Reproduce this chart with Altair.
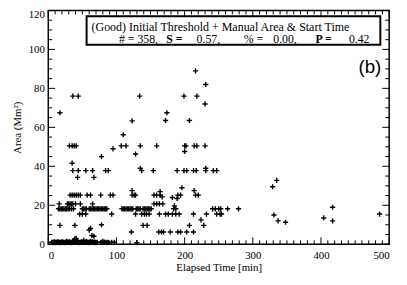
import altair as alt
import pandas as pd

# ---- data ----
# near-zero cluster
low_t = [5, 6, 7, 8, 9, 10, 11, 12, 13, 14, 15, 16, 17, 18, 19, 20, 21, 22, 23, 24, 25, 26, 27, 28,
         29, 30, 31, 32, 33, 34, 35, 36, 37, 38, 39, 40, 41, 42, 43, 44, 45, 46, 47, 48, 49, 50, 51,
         52, 53, 54, 55, 56, 57, 58, 59, 60, 61, 62, 63, 64, 65, 66, 67, 68, 69, 70, 72, 77, 79, 80,
         82, 83, 85, 86, 88, 93, 97, 130]
low_a = [1.0, 1.0, 0.8, 1.0, 1.2, 1.0, 0.8, 1.0, 1.0, 1.2, 1.0, 1.0, 0.8, 1.0, 1.0, 1.2, 1.0, 1.0,
         1.0, 0.8, 1.0, 1.0, 1.5, 1.0, 1.0, 1.0, 1.2, 1.0, 1.0, 0.8, 1.0, 1.5, 1.0, 2.0, 1.0, 1.2,
         1.0, 1.0, 1.5, 1.0, 1.0, 0.8, 1.0, 1.0, 1.2, 1.0, 1.0, 2.0, 1.0, 1.0, 1.0, 1.5, 1.0, 1.0,
         0.8, 1.0, 1.0, 1.5, 1.0, 1.0, 1.2, 1.0, 1.0, 1.0, 1.0, 0.8, 1.0, 1.0, 1.0, 1.5, 1.0, 1.0,
         1.0, 0.8, 1.0, 1.0, 1.0, 0.8]

row18_t = [15, 17, 19, 21, 23, 25, 27, 29, 31, 34, 37, 50, 52, 54, 56, 60, 62, 64, 66, 68, 70, 72,
           74, 76, 78, 80, 82, 84, 86, 108, 110, 112, 114, 116, 118, 120, 122, 124, 129, 131, 133,
           135, 139, 141, 143, 145, 147, 149, 151, 184, 187, 241, 245, 250, 253, 263, 279]
row21_t = [16, 28, 30, 32, 34, 36, 40, 47, 65, 155, 159, 163, 168]
row25_t = [32, 35, 38, 41, 44, 47, 57, 62, 77, 91, 95, 123, 126, 128, 155, 159, 164, 190, 194, 216, 220]
row16_t = [46, 50, 55, 93, 128, 137, 141, 144, 148, 163, 172, 176, 182, 187, 192, 213, 232, 247, 252, 254]
row6_t = [122, 162, 166, 169, 179, 190, 194, 203, 213]
row10_t = [17, 39, 139, 145, 207, 228]
row38_t = [36, 44, 55, 65, 84, 88, 137, 154, 189, 199, 203, 213, 217, 231, 242, 247]
row50_t = [31, 35, 38, 41, 107, 114, 135, 159, 200, 202, 214, 218, 230]
row76_t = [36, 44, 134, 199, 218]

other_t = [17, 174, 172, 123, 207, 110, 95, 128, 78, 35, 200, 135, 231, 43, 67, 216, 231, 230, 196,
           214, 123, 185, 224, 167, 182, 189, 164, 60, 62, 64, 67, 78, 39, 41,
           329, 335, 331, 337, 348, 404, 417, 417, 486]
other_a = [67.5, 67.5, 63.5, 63.3, 63.5, 56.2, 49.0, 46.3, 45.0, 41.6, 47.6, 39.0, 39.0, 34.3, 34.3,
           89.0, 82.0, 72.0, 29.0, 27.5, 27.5, 19.7, 12.5, 24.3, 24.0, 23.5, 27.0, 7.3, 8.1, 4.5,
           4.1, 10.0, 2.8, 3.0, 29.5, 32.8, 15.0, 12.0, 11.3, 13.5, 19.0, 12.0, 15.5]

rows = [(row18_t, 18.2), (row21_t, 20.7), (row25_t, 25.2), (row16_t, 15.5), (row6_t, 6.3),
        (row10_t, 9.7), (row38_t, 37.8), (row50_t, 50.5), (row76_t, 76.0)]

x_major = [0, 100, 200, 300, 400, 500]
y_major = [0, 20, 40, 60, 80, 100, 120]
x_minor = [v for v in range(0, 501, 10) if v % 100]
y_minor = [v for v in range(0, 121, 5) if v % 20]

t_all, a_all = list(low_t), list(low_a)
for ts, a in rows:
    t_all += ts
    a_all += [a] * len(ts)
t_all += other_t
a_all += other_a
pts = pd.DataFrame({"t": t_all, "a": a_all})

W, H = 347, 238
SERIF = "Liberation Serif"
xs = alt.Scale(domain=[0, 500], nice=False, zero=False)
ys = alt.Scale(domain=[0, 120], nice=False, zero=False)

x_axis = alt.Axis(values=x_major, ticks=False, domain=False, grid=False,
                  labelFont=SERIF, labelFontSize=11, labelColor="black",
                  labelPadding=6, titleFont=SERIF, titleFontSize=11,
                  titleFontWeight="normal", titleColor="black", titlePadding=1)
y_axis = alt.Axis(values=y_major, ticks=False, domain=False, grid=False,
                  labelFont=SERIF, labelFontSize=11, labelColor="black",
                  labelPadding=4, titleFont=SERIF, titleFontSize=11,
                  labelOffset={"condition": {"test": "datum.value == 120", "value": 4}, "value": 0},
                  titleFontWeight="normal", titleColor="black", titlePadding=6)
XT = "Elapsed Time [min]"
YT = "Area (Mm²)"

plus = "M-1,0L1,0M0,-1L0,1"
scatter = alt.Chart(pts).mark_point(shape=plus, filled=False, color="black",
                                    strokeWidth=1.4, size=28, opacity=1).encode(
    x=alt.X("t:Q", scale=xs, title=XT, axis=x_axis),
    y=alt.Y("a:Q", scale=ys, title=YT, axis=y_axis),
)

def xticks(vals, length):
    d = pd.DataFrame({"t": vals})
    enc = alt.X("t:Q", scale=xs, title=XT, axis=x_axis)
    b = alt.Chart(d).mark_rule(color="black", strokeWidth=1).encode(
        x=enc, y=alt.value(H), y2=alt.value(H - length))
    t = alt.Chart(d).mark_rule(color="black", strokeWidth=1).encode(
        x=enc, y=alt.value(0), y2=alt.value(length))
    return [b, t]

def yticks(vals, length):
    d = pd.DataFrame({"a": vals})
    enc = alt.Y("a:Q", scale=ys, title=YT, axis=y_axis)
    l = alt.Chart(d).mark_rule(color="black", strokeWidth=1).encode(
        y=enc, x=alt.value(0), x2=alt.value(length))
    r = alt.Chart(d).mark_rule(color="black", strokeWidth=1).encode(
        y=enc, x=alt.value(W), x2=alt.value(W - length))
    return [l, r]

ticks = xticks(x_major, 7) + xticks(x_minor, 4) + yticks(y_major, 7) + yticks(y_minor, 4)

box = alt.Chart(pd.DataFrame({"k": [0]})).mark_rect(
    fill="white", stroke="black", strokeWidth=2).encode(
    x=alt.value(39), x2=alt.value(338), y=alt.value(6), y2=alt.value(35))

line1 = alt.Chart(pd.DataFrame({"s": ["(Good) Initial Threshold + Manual Area & Start Time"]})).mark_text(
    font=SERIF, fontSize=12.2, align="left", baseline="alphabetic", color="black").encode(
    text="s:N", x=alt.value(44), y=alt.value(21))

parts = ["# = 358,", "S =", "0.57,", "% =", "0.00,", "P =", "0.42"]
part_x = [72, 120, 151, 199, 229, 272, 306]
part_w = ["normal", "bold", "normal", "normal", "normal", "bold", "normal"]
line2 = [alt.Chart(pd.DataFrame({"s": [p]})).mark_text(
    font=SERIF, fontSize=12, align="left", baseline="alphabetic", color="black",
    fontWeight=w).encode(text="s:N", x=alt.value(px), y=alt.value(33))
    for p, px, w in zip(parts, part_x, part_w)]

label_b = alt.Chart(pd.DataFrame({"s": ["(b)"]})).mark_text(
    font="Liberation Sans", fontSize=19, align="right", baseline="alphabetic",
    color="black").encode(text="s:N", x=alt.value(339), y=alt.value(64))

chart = alt.layer(scatter, *ticks, box, line1, *line2, label_b).properties(
    width=W, height=H,
    autosize=alt.AutoSizeParams(type="none"),
    padding={"left": 41, "top": 0, "right": 10, "bottom": 39},
).configure_view(stroke="black", strokeWidth=1.5)

chart.save("out.html", embed_options={"renderer": "svg", "actions": False})
